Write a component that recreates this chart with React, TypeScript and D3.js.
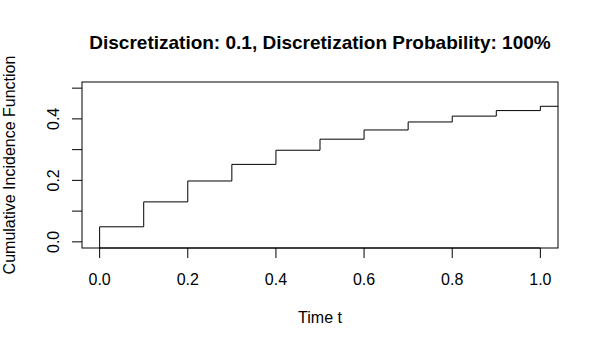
import { useEffect, useRef } from "react";
import * as d3 from "d3";

// step function: value on [t, t + 0.1)
const stepTimes = [0.0, 0.1, 0.2, 0.3, 0.4, 0.5, 0.6, 0.7, 0.8, 0.9, 1.0];
const stepValues = [0.049, 0.130, 0.198, 0.252, 0.298, 0.334, 0.364, 0.390, 0.409, 0.427, 0.441];
const xTicks = [0, 0.2, 0.4, 0.6, 0.8, 1.0];
const yTicks = [0, 0.1, 0.2, 0.3, 0.4, 0.5];
const yTickLabels = [0, 0.2, 0.4];

const title = "Discretization: 0.1, Discretization Probability: 100%";
const xTitle = "Time t";
const yTitle = "Cumulative Incidence Function";

const width = 600;
const height = 350;
const margin = { top: 82, right: 42, bottom: 102, left: 82 };
const font = "'Liberation Sans', Arial, Helvetica, sans-serif";

export default function App() {
  const svgRef = useRef<SVGSVGElement>(null);

  useEffect(() => {
    const svg = d3.select(svgRef.current);
    svg.selectAll("*").remove();

    const iw = width - margin.left - margin.right;
    const ih = height - margin.top - margin.bottom;

    // R style: 4% padding around the data range
    const x = d3.scaleLinear().domain([-0.04, 1.04]).range([0, iw]);
    const y = d3.scaleLinear().domain([-0.02, 0.52]).range([ih, 0]);

    const g = svg.append("g").attr("transform", `translate(${margin.left},${margin.top})`);

    // the step line
    const pts: [number, number][] = [[0, -0.02]];
    stepTimes.forEach((t, i) => {
      pts.push([t, stepValues[i]]);
      const next = i < stepTimes.length - 1 ? stepTimes[i + 1] : 1.04;
      pts.push([next, stepValues[i]]);
    });
    const line = d3.line<[number, number]>()
      .x(d => x(d[0]))
      .y(d => y(d[1]))
      .curve(d3.curveStepAfter);
    g.append("path")
      .attr("d", line(pts))
      .attr("fill", "none")
      .attr("stroke", "black")
      .attr("stroke-width", 1);

    // box
    g.append("rect")
      .attr("x", 0).attr("y", 0)
      .attr("width", iw).attr("height", ih)
      .attr("fill", "none")
      .attr("stroke", "black")
      .attr("stroke-width", 1);

    // x axis
    const xa = g.append("g").attr("transform", `translate(0,${ih})`);
    xa.append("line")
      .attr("x1", x(xTicks[0])).attr("x2", x(xTicks[xTicks.length - 1]))
      .attr("stroke", "black");
    xa.selectAll("line.tick").data(xTicks).join("line")
      .attr("class", "tick")
      .attr("x1", d => x(d)).attr("x2", d => x(d))
      .attr("y1", 0).attr("y2", 10)
      .attr("stroke", "black");
    xa.selectAll("text").data(xTicks).join("text")
      .attr("x", d => x(d)).attr("y", 37)
      .attr("text-anchor", "middle")
      .attr("font-size", 16)
      .attr("font-family", font)
      .text(d => d3.format(".1f")(d));

    // y axis
    const ya = g.append("g");
    ya.selectAll("line.tick").data(yTicks).join("line")
      .attr("class", "tick")
      .attr("x1", 0).attr("x2", -10)
      .attr("y1", d => y(d)).attr("y2", d => y(d))
      .attr("stroke", "black");
    ya.selectAll("text").data(yTickLabels).join("text")
      .attr("transform", d => `translate(-23,${y(d)}) rotate(-90)`)
      .attr("text-anchor", "middle")
      .attr("font-size", 16)
      .attr("font-family", font)
      .text(d => d3.format(".1f")(d));

    // titles
    svg.append("text")
      .attr("x", margin.left + iw / 2).attr("y", 49)
      .attr("text-anchor", "middle")
      .attr("font-size", 19)
      .attr("font-weight", "bold")
      .attr("font-family", font)
      .text(title);
    svg.append("text")
      .attr("x", margin.left + iw / 2).attr("y", 323)
      .attr("text-anchor", "middle")
      .attr("font-size", 16)
      .attr("font-family", font)
      .text(xTitle);
    svg.append("text")
      .attr("transform", `translate(15,${margin.top + ih / 2}) rotate(-90)`)
      .attr("text-anchor", "middle")
      .attr("font-size", 16)
      .attr("font-family", font)
      .text(yTitle);
  }, []);

  return (
    <svg
      ref={svgRef}
      width={width}
      height={height}
      style={{ position: "absolute", left: 0, top: 0, background: "white" }}
    />
  );
}
